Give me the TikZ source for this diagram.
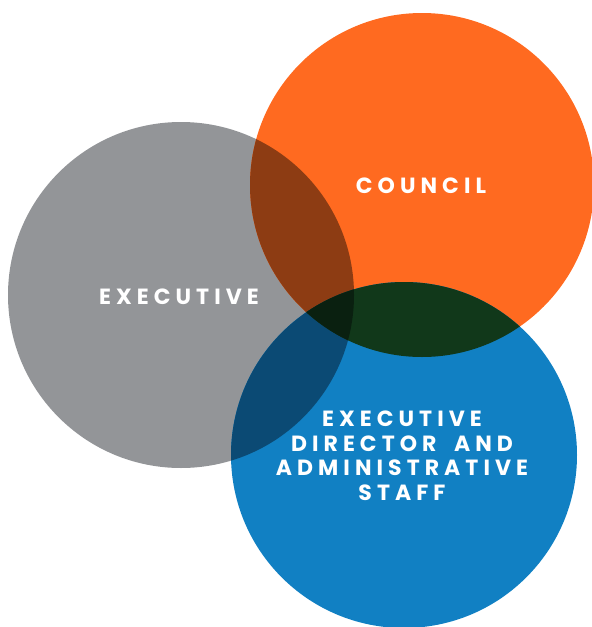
\documentclass[tikz,border=0pt]{standalone}
\usepackage{fontspec}
\newfontfamily\labelfont[LetterSpace=23,WordSpace=1.8]{Poppins}
\definecolor{cgray}{RGB}{147,149,152}
\definecolor{corange}{RGB}{255,106,32}
\definecolor{cblue}{RGB}{17,128,195}
\definecolor{cgo}{RGB}{141,60,19}
\definecolor{cgb}{RGB}{11,74,116}
\definecolor{cob}{RGB}{17,56,26}
\definecolor{cgob}{RGB}{10,32,16}
\tikzset{
  lbl/.style={text=white, font=\labelfont\bfseries\fontsize{22}{24.5}\selectfont, align=center, inner sep=0pt}
}
\begin{document}
\begin{tikzpicture}[x=1pt,y=-1pt]
\useasboundingbox (0,0) rectangle (592,627);
\coordinate (g) at (181,295);
\coordinate (o) at (422,185);
\coordinate (b) at (404,455);
\def\gR{173}\def\oR{172}\def\bR{173}
\fill[cgray] (g) circle[radius=\gR];
\fill[corange] (o) circle[radius=\oR];
\fill[cblue] (b) circle[radius=\bR];
\begin{scope}
  \clip (g) circle[radius=\gR];
  \fill[cgo] (o) circle[radius=\oR];
  \fill[cgb] (b) circle[radius=\bR];
\end{scope}
\begin{scope}
  \clip (o) circle[radius=\oR];
  \fill[cob] (b) circle[radius=\bR];
\end{scope}
\begin{scope}
  \clip (g) circle[radius=\gR];
  \clip (o) circle[radius=\oR];
  \fill[cgob] (b) circle[radius=\bR];
\end{scope}
\node[lbl] (council) at (421,186) {COUNCIL};
\node[lbl] (exec) at (179,297) {EXECUTIVE};
\node[lbl] (staff) at (402,456) {EXECUTIVE\\DIRECTOR AND\\ADMINISTRATIVE\\STAFF};
\end{tikzpicture}
\end{document}
